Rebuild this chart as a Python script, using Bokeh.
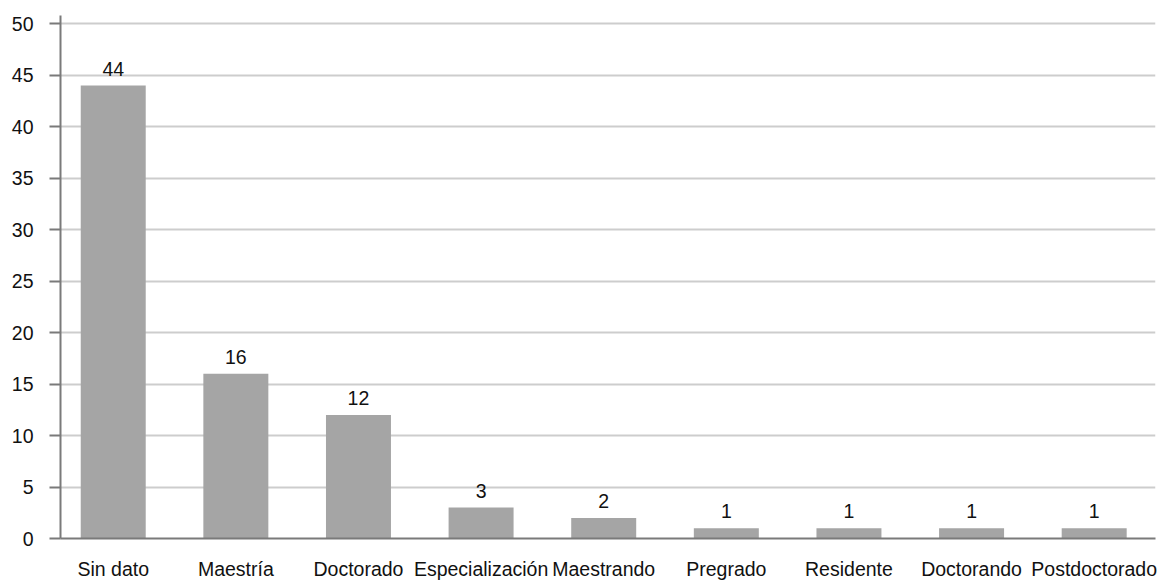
from bokeh.plotting import figure
from bokeh.models import ColumnDataSource, Range1d, FixedTicker, LabelSet
from bokeh.core.properties import value
from bokeh.embed import file_html
from bokeh.resources import INLINE

categories = ["Sin dato", "Maestría", "Doctorado", "Especialización", "Maestrando",
              "Pregrado", "Residente", "Doctorando", "Postdoctorado"]
values = [44, 16, 12, 3, 2, 1, 1, 1, 1]
y_ticks = [0, 5, 10, 15, 20, 25, 30, 35, 40, 45, 50]

xpos = [i + 0.5 for i in range(len(categories))]
source = ColumnDataSource(dict(x=xpos, cat=categories, val=values,
                               lbl=[str(v) for v in values]))

FONT = "Liberation Sans"
FS = "19.5px"
TXT = "#111111"

p = figure(x_range=Range1d(0.07, 9.0), y_range=Range1d(0, 50.8), width=1168, height=582,
           output_backend="svg", toolbar_location=None,
           min_border_left=60, min_border_right=13, min_border_top=15, min_border_bottom=40)
p.outline_line_color = None
p.background_fill_color = "white"

p.vbar(x="x", top="val", width=0.53, source=source, color="#a5a5a5", line_color=None)

labels = LabelSet(x="x", y="val", text="lbl", source=source, text_align="center",
                  text_baseline="bottom", y_offset=10, text_font=value(FONT),
                  text_font_size=value(FS), text_color=TXT)
p.add_layout(labels)

p.xgrid.grid_line_color = None
p.ygrid.grid_line_color = "#cdcdcd"
p.ygrid.grid_line_width = 2
p.yaxis.ticker = FixedTicker(ticks=y_ticks)
p.xaxis.ticker = FixedTicker(ticks=xpos)
p.xaxis.major_label_overrides = {x: c for x, c in zip(xpos, categories)}

for ax in (p.xaxis, p.yaxis):
    ax.axis_line_color = "#7a7a7a"
    ax.axis_line_width = 2
    ax.major_label_text_font = FONT
    ax.major_label_text_font_size = FS
    ax.major_label_text_color = TXT
    ax.minor_tick_line_color = None

p.yaxis.major_tick_line_color = "#7a7a7a"
p.yaxis.major_tick_line_width = 2
p.yaxis.major_tick_out = 11
p.yaxis.major_tick_in = 0
p.yaxis.major_label_standoff = 16

p.xaxis.major_tick_line_color = None
p.xaxis.major_tick_out = 0
p.xaxis.major_tick_in = 0
p.xaxis.major_label_standoff = 19

open("out.html", "w").write(file_html(p, INLINE))
